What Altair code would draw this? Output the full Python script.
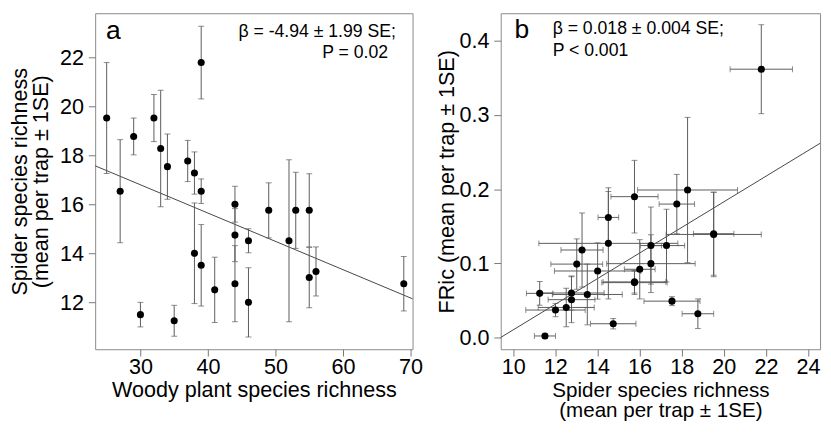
import altair as alt
import pandas as pd

FONT = "Liberation Sans"

# ---- data ----
woody = [25, 27, 29, 30, 32, 33, 34, 35, 37, 38, 38, 39, 39, 39, 41, 44, 44, 44,
         46, 46, 49, 52, 53, 55, 55, 56, 69]
spider = [19.52, 16.54, 18.77, 11.51, 19.52, 18.28, 17.54, 11.26, 17.77, 17.28,
          14.01, 21.78, 16.54, 13.52, 12.52, 16.01, 14.75, 12.77, 14.52, 12.01,
          15.76, 14.52, 15.76, 15.76, 13.02, 13.27, 12.77]
spider_se = [2.26, 2.10, 0.75, 0.50, 0.96, 2.37, 1.33, 0.63, 0.84, 0.86,
             2.05, 1.48, 0.50, 1.66, 1.33, 0.73, 1.08, 1.55, 0.49, 1.41,
             1.12, 3.30, 1.55, 1.49, 1.23, 1.00, 1.11]
fric = [0.139, 0.0996, 0.032, 0.002, 0.140, 0.199, 0.049, 0.0595, 0.180, 0.124,
        0.0897, 0.362, 0.124, 0.058, 0.0405, 0.092, 0.0185, 0.060, 0.162, 0.037,
        0.190, 0.127, 0.074, 0.075, 0.099, 0.118, 0.051]
fric_se = [0.057, 0.039, 0.020, 0.003, 0.056, 0.098, 0.006, 0.016, 0.040, 0.049,
           0.038, 0.060, 0.052, 0.041, 0.026, 0.040, 0.007, 0.023, 0.035, 0.009,
           0.049, 0.075, 0.016, 0.015, 0.034, 0.050, 0.031]

a_x_ticks = [30, 40, 50, 60, 70]
a_y_ticks = [12, 14, 16, 18, 20, 22]
b_x_ticks = [10, 12, 14, 16, 18, 20, 22, 24]
b_y_ticks = [0.0, 0.1, 0.2, 0.3, 0.4]

a_xdom = [23.3, 70.3]
a_ydom = [10.1, 23.79]
b_xdom = [9.41, 24.57]
b_ydom = [-0.0159, 0.4375]

# fitted lines: intercept, slope
a_fit = [20.26, -0.1153]
b_fit = [-0.1626, 0.01728]

a_label = "a"
b_label = "b"
a_stat = ["β = -4.94 ± 1.99 SE;", "P = 0.02"]
b_stat = ["β = 0.018 ± 0.004 SE;", "P < 0.001"]
a_xtitle = "Woody plant species richness"
a_ytitle = ["Spider species richness", "(mean per trap ± 1SE)"]
b_xtitle = ["Spider species richness", "(mean per trap ± 1SE)"]
b_ytitle = "FRic (mean per trap ± 1SE)"

df = pd.DataFrame({
    "woody": woody,
    "spider": spider,
    "spider_lo": [m - s for m, s in zip(spider, spider_se)],
    "spider_hi": [m + s for m, s in zip(spider, spider_se)],
    "fric": fric,
    "fric_lo": [m - s for m, s in zip(fric, fric_se)],
    "fric_hi": [m + s for m, s in zip(fric, fric_se)],
})

line_a = pd.DataFrame({"x": a_xdom, "y": [a_fit[0] + a_fit[1] * v for v in a_xdom]})
line_b = pd.DataFrame({"x": b_xdom, "y": [b_fit[0] + b_fit[1] * v for v in b_xdom]})

W_A, W_B, H = 324, 326, 343
ERR = "#5a5a5a"
CAP = 6
FS = 22


def xaxis(ticks, title, tfs=FS, lh=21):
    return alt.Axis(values=ticks, title=title, labelPadding=1, titlePadding=2,
                    labelFlush=False, titleLineHeight=lh, titleFontSize=tfs)


def yaxis(ticks, title, fmt=None, tp=3):
    kw = dict(values=ticks, title=title, labelPadding=5, titlePadding=tp,
              labelFlush=False, titleLineHeight=22)
    if fmt:
        kw["format"] = fmt
    return alt.Axis(**kw)


def txt(s, x, y, size, align="left"):
    return alt.Chart(pd.DataFrame({"t": [s]})).mark_text(
        font=FONT, fontSize=size, align=align, baseline="alphabetic", color="black"
    ).encode(text="t:N", x=alt.value(x), y=alt.value(y))


# ---------------- panel a ----------------
ax_a = xaxis(a_x_ticks, a_xtitle)
ay_a = yaxis(a_y_ticks, a_ytitle, tp=7)
sx_a = alt.Scale(domain=a_xdom, nice=False, zero=False)
sy_a = alt.Scale(domain=a_ydom, nice=False, zero=False)

base_a = alt.Chart(df)
err_a = base_a.mark_rule(color=ERR, strokeWidth=1).encode(
    x=alt.X("woody:Q", scale=sx_a, axis=ax_a),
    y=alt.Y("spider_lo:Q", scale=sy_a, axis=ay_a),
    y2="spider_hi:Q",
)
cap_a_lo = base_a.mark_tick(color=ERR, orient="horizontal", size=CAP, thickness=1).encode(
    x=alt.X("woody:Q", scale=sx_a, axis=ax_a),
    y=alt.Y("spider_lo:Q", scale=sy_a, axis=ay_a),
)
cap_a_hi = base_a.mark_tick(color=ERR, orient="horizontal", size=CAP, thickness=1).encode(
    x=alt.X("woody:Q", scale=sx_a, axis=ax_a),
    y=alt.Y("spider_hi:Q", scale=sy_a, axis=ay_a),
)
fit_a = alt.Chart(line_a).mark_line(color="#444", strokeWidth=1).encode(
    x=alt.X("x:Q", scale=sx_a, axis=ax_a),
    y=alt.Y("y:Q", scale=sy_a, axis=ay_a),
)
pts_a = base_a.mark_circle(color="black", opacity=1, size=52).encode(
    x=alt.X("woody:Q", scale=sx_a, axis=ax_a),
    y=alt.Y("spider:Q", scale=sy_a, axis=ay_a),
)

lab_a = txt(a_label, 11, 26, 27)
st_a1 = txt(a_stat[0], 307, 24, 18, "right")
st_a2 = txt(a_stat[1], 299, 45.5, 18, "right")

panel_a = alt.layer(fit_a, err_a, cap_a_lo, cap_a_hi, pts_a, lab_a, st_a1, st_a2).properties(
    width=W_A, height=H)

# ---------------- panel b ----------------
ax_b = xaxis(b_x_ticks, b_xtitle, tfs=21, lh=21)
ay_b = yaxis(b_y_ticks, b_ytitle, fmt=".1f", tp=1)
sx_b = alt.Scale(domain=b_xdom, nice=False, zero=False)
sy_b = alt.Scale(domain=b_ydom, nice=False, zero=False)

base_b = alt.Chart(df)
verr_b = base_b.mark_rule(color=ERR, strokeWidth=1).encode(
    x=alt.X("spider:Q", scale=sx_b, axis=ax_b),
    y=alt.Y("fric_lo:Q", scale=sy_b, axis=ay_b),
    y2="fric_hi:Q",
)
vcap_lo = base_b.mark_tick(color=ERR, orient="horizontal", size=CAP, thickness=1).encode(
    x=alt.X("spider:Q", scale=sx_b, axis=ax_b),
    y=alt.Y("fric_lo:Q", scale=sy_b, axis=ay_b),
)
vcap_hi = base_b.mark_tick(color=ERR, orient="horizontal", size=CAP, thickness=1).encode(
    x=alt.X("spider:Q", scale=sx_b, axis=ax_b),
    y=alt.Y("fric_hi:Q", scale=sy_b, axis=ay_b),
)
herr_b = base_b.mark_rule(color=ERR, strokeWidth=1).encode(
    x=alt.X("spider_lo:Q", scale=sx_b, axis=ax_b),
    x2="spider_hi:Q",
    y=alt.Y("fric:Q", scale=sy_b, axis=ay_b),
)
hcap_lo = base_b.mark_tick(color=ERR, orient="vertical", size=CAP, thickness=1).encode(
    x=alt.X("spider_lo:Q", scale=sx_b, axis=ax_b),
    y=alt.Y("fric:Q", scale=sy_b, axis=ay_b),
)
hcap_hi = base_b.mark_tick(color=ERR, orient="vertical", size=CAP, thickness=1).encode(
    x=alt.X("spider_hi:Q", scale=sx_b, axis=ax_b),
    y=alt.Y("fric:Q", scale=sy_b, axis=ay_b),
)
fit_b = alt.Chart(line_b).mark_line(color="#444", strokeWidth=1).encode(
    x=alt.X("x:Q", scale=sx_b, axis=ax_b),
    y=alt.Y("y:Q", scale=sy_b, axis=ay_b),
)
pts_b = base_b.mark_circle(color="black", opacity=1, size=52).encode(
    x=alt.X("spider:Q", scale=sx_b, axis=ax_b),
    y=alt.Y("fric:Q", scale=sy_b, axis=ay_b),
)
lab_b = txt(b_label, 14, 25, 27)
st_b1 = txt(b_stat[0], 53, 21.6, 18)
st_b2 = txt(b_stat[1], 53, 43.3, 18)

panel_b = alt.layer(fit_b, verr_b, vcap_lo, vcap_hi, herr_b, hcap_lo, hcap_hi, pts_b,
                    lab_b, st_b1, st_b2).properties(width=W_B, height=H)

chart = alt.hconcat(panel_a, panel_b, spacing=11).properties(
    padding={"left": 0, "top": 0, "right": 0, "bottom": 0},
    background="white",
).configure_view(
    stroke="#888", strokeWidth=1
).configure_axis(
    domain=False, grid=False, tickColor="#777", tickSize=7, tickWidth=1,
    labelFont=FONT, labelFontSize=FS, labelColor="black",
    titleFont=FONT, titleFontSize=FS, titleFontWeight="normal", titleColor="black",
)

chart.save("out.html", embed_options={"renderer": "svg", "actions": False})
